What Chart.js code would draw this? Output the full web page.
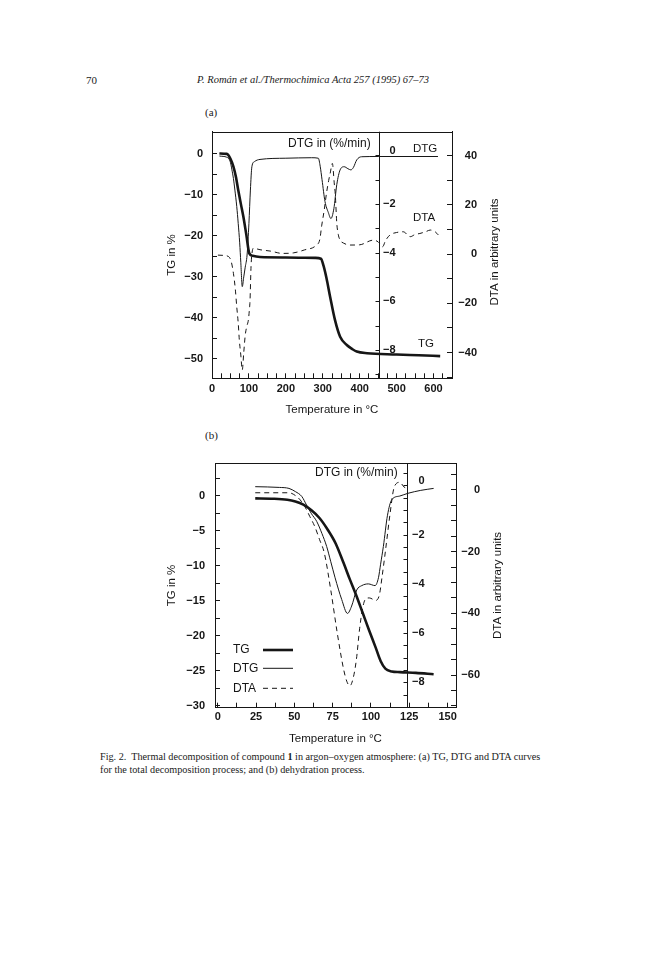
<!DOCTYPE html>
<html>
<head>
<meta charset="utf-8">
<script src="https://cdn.jsdelivr.net/npm/chart.js@4.4.1/dist/chart.umd.min.js"></script>
<style>
  body { margin: 0; background: #fff; }
  #page { position: relative; width: 672px; height: 960px; background: #fff; color: #1a1a1a; }
  .t { position: absolute; white-space: nowrap; font-family: "Liberation Serif", serif; line-height: 14px; }
  .head { font-size: 11px; }
  .it { font-style: italic; font-size: 10.5px; }
  .cap { font-size: 10.2px; }
  canvas { position: absolute; }
</style>
</head>
<body>
<div id="page">
  <div class="t head" style="left:86px;top:73px;">70</div>
  <div class="t head it" style="left:197px;top:73px;">P. Román et al./Thermochimica Acta 257 (1995) 67–73</div>
  <div class="t head" style="left:205px;top:105px;">(a)</div>
  <div class="t head" style="left:205px;top:428px;">(b)</div>
  <div class="t cap" style="left:100px;top:750px;">Fig. 2.&nbsp; Thermal decomposition of compound <b>1</b> in argon–oxygen atmosphere: (a) TG, DTG and DTA curves</div>
  <div class="t cap" style="left:100px;top:763px;">for the total decomposition process; and (b) dehydration process.</div>
  <canvas id="chartA" width="380" height="320" style="left:150px;top:107px;"></canvas>
  <canvas id="chartB" width="380" height="320" style="left:150px;top:438px;"></canvas>
</div>
<script>
// ---- (a) total decomposition, temperature in °C ----
const tgTempA = [20, 40, 50, 58, 65, 71, 78, 85, 93, 101, 110, 130, 200, 280, 295, 302, 310, 320, 333, 347, 365, 380, 392, 420, 500, 560, 618];
const tgA = [0, -0.1, -1.3, -3.2, -5.8, -8.9, -12.2, -15.4, -19.8, -24.3, -24.9, -25.2, -25.3, -25.4, -25.6, -27.3, -30.3, -34.9, -40.5, -44.6, -46.6, -47.6, -48.2, -48.6, -48.9, -49.1, -49.3];

const dtgTempA = [20, 40, 46, 50, 54, 58, 62, 67, 71, 75, 78, 82, 86, 90, 95, 100, 104, 108, 115, 130, 200, 270, 288, 293, 298, 306, 315, 322, 330, 338, 347, 358, 368, 376, 383, 392, 405, 450, 520, 612];
const dtgA = [-0.03, -0.08, -0.15, -0.3, -0.6, -0.95, -1.43, -2.1, -2.8, -3.6, -4.4, -5.4, -5.0, -4.6, -4.1, -2.8, -1.43, -0.47, -0.26, -0.17, -0.12, -0.1, -0.12, -0.45, -1.0, -1.9, -2.35, -2.6, -2.2, -1.2, -0.6, -0.47, -0.55, -0.6, -0.5, -0.19, -0.06, -0.05, -0.05, -0.05];

const dtaTempA = [16, 30, 45, 52, 58, 63, 67, 71, 74, 78, 82, 86, 90, 94, 98.5, 101, 103, 105.7, 108, 112, 130, 160, 190, 220, 250, 283, 292, 297, 304, 310, 316, 320, 326, 331, 334, 338, 342, 347, 356, 374, 400, 437, 450, 462, 470, 482, 500, 518, 537, 550, 563, 580, 591, 605, 613];
const dtaA = [-0.4, -0.5, -1, -3, -7.8, -14, -21.4, -28, -34.9, -41, -47.1, -40, -33, -29.5, -26.8, -23, -18.7, -5.1, 0, 2.4, 1.8, 1.2, 0.3, 0.5, 1.7, 3.7, 6, 11.5, 18, 24.7, 30, 32.8, 36.9, 29, 24, 12.5, 8, 5.7, 4.5, 3.7, 3.8, 5.7, 5.0, 3.0, 5.5, 7.8, 8.8, 9.1, 7.1, 8.0, 8.4, 9.2, 9.8, 9.0, 7.8];

// ---- (b) dehydration ----
const tgTempB = [24.5, 34.9, 45.4, 50.7, 55.9, 61.2, 66.4, 71.6, 76.9, 82.1, 86.3, 90.5, 94.7, 98.9, 103.1, 106.3, 109.4, 113.6, 118.8, 129.3, 140.9];
const tgB = [-0.4, -0.45, -0.6, -0.85, -1.3, -2.1, -3.2, -4.8, -6.8, -9.6, -12.0, -14.3, -16.8, -19.3, -21.7, -23.6, -24.7, -25.1, -25.2, -25.3, -25.5];

const dtgTempB = [24.5, 40.2, 46.5, 50.7, 54.9, 58.0, 61.2, 64.6, 68.0, 71.1, 73.8, 76.6, 80.9, 84.7, 87.4, 90.7, 94.0, 98.3, 102.7, 104.9, 106.3, 108.1, 110.8, 113.6, 118.8, 124.1, 132.5, 140.9];
const dtgB = [-0.05, -0.08, -0.12, -0.25, -0.45, -0.8, -1.15, -1.46, -1.95, -2.48, -3.1, -3.75, -4.63, -5.2, -4.9, -4.25, -4.07, -4.0, -4.07, -3.75, -3.2, -2.48, -1.21, -0.58, -0.43, -0.32, -0.2, -0.12];

const dtaTempB = [24.5, 34.9, 46.5, 50.7, 53.8, 57.0, 60.1, 63.3, 66.4, 69.6, 73.8, 77.9, 82.1, 84.2, 86.3, 88.4, 90.5, 92.6, 94.7, 96.3, 98.9, 103.1, 105.5, 107.3, 109.4, 112.6, 114.7, 116.8, 118.9, 121.5, 124.1];
const dtaB = [-0.9, -0.9, -0.9, -1.8, -3.2, -5.5, -8.6, -11.8, -16, -20.5, -32.5, -46, -58, -62, -63.5, -61, -55, -45, -38, -35.5, -35, -35.8, -34, -28, -20, -7.2, 0, 2.2, 2.5, 1.0, 0.5];

// ---- tick labels ----
const xLabelsA = [0, 100, 200, 300, 400, 500, 600];
const tgLabelsA = [-50, -40, -30, -20, -10, 0];
const dtgLabelsA = [-8, -6, -4, -2, 0];
const dtaLabelsA = [-40, -20, 0, 20, 40];

const xLabelsB = [0, 25, 50, 75, 100, 125, 150];
const tgLabelsB = [-30, -25, -20, -15, -10, -5, 0];
const dtgLabelsB = [-8, -6, -4, -2, 0];
const dtaLabelsB = [-60, -40, -20, 0];

const ink = '#161616';
const tickFont = { family: 'Liberation Sans', size: 11, weight: 'bold' };
const titleFont = { family: 'Liberation Sans', size: 11.5 };

function minus(v) { return String(v).replace('-', '\u2212'); }
function steps(from, to, step) {
  const out = [];
  for (let v = from; v <= to + 1e-9; v += step) out.push(Math.round(v * 100) / 100);
  return out;
}
function pts(xs, ys) { return xs.map((x, i) => ({ x: x, y: ys[i] })); }

// top border, middle DTG axis, right-hand title, notes and legend
const framePlugin = {
  id: 'frame',
  afterDraw(chart, args, o) {
    const { ctx, chartArea: a, scales } = chart;
    ctx.save();
    ctx.strokeStyle = ink;
    ctx.fillStyle = ink;
    ctx.lineWidth = 1;
    ctx.beginPath();
    ctx.moveTo(a.left, Math.round(a.top) + 0.5);
    ctx.lineTo(a.right, Math.round(a.top) + 0.5);
    const mx = Math.round(scales.x.getPixelForValue(o.midX)) + 0.5;
    ctx.moveTo(mx, a.top);
    ctx.lineTo(mx, a.bottom);
    o.dtgTicks.forEach(function (v) {
      const y = Math.round(scales.yDtg.getPixelForValue(v)) + 0.5;
      ctx.moveTo(mx - 4, y);
      ctx.lineTo(mx, y);
    });
    ctx.stroke();

    ctx.font = 'bold 11px "Liberation Sans"';
    ctx.textAlign = 'right';
    ctx.textBaseline = 'middle';
    o.dtgLabels.forEach(function (v) {
      ctx.fillText(minus(v), mx + o.dtgLabelDx, scales.yDtg.getPixelForValue(v) - (v === 0 ? 4 : 0));
    });

    ctx.save();
    ctx.translate(a.right + o.dtaTitleDx, (a.top + a.bottom) / 2 + o.dtaTitleDy);
    ctx.rotate(-Math.PI / 2);
    ctx.font = '11.5px "Liberation Sans"';
    ctx.textAlign = 'center';
    ctx.fillText('DTA in arbitrary units', 0, 0);
    ctx.restore();

    ctx.textAlign = 'left';
    o.notes.forEach(function (n) {
      ctx.font = n.size + 'px "Liberation Sans"';
      ctx.fillText(n.text, a.left + n.dx, a.top + n.dy);
    });

    if (o.legend) {
      const L = o.legend;
      chart.data.datasets.forEach(function (ds, i) {
        const y = a.top + L.dy[i];
        ctx.font = '12px "Liberation Sans"';
        ctx.fillText(ds.label, a.left + L.textDx, y);
        ctx.beginPath();
        ctx.lineWidth = ds.borderWidth;
        ctx.setLineDash(ds.borderDash || []);
        ctx.moveTo(a.left + L.lineFrom, y);
        ctx.lineTo(a.left + L.lineTo, y);
        ctx.stroke();
      });
      ctx.setLineDash([]);
    }
    ctx.restore();
  }
};

function yAxis(p, side) {
  return {
    position: side,
    min: p.min, max: p.max,
    afterFit: function (s) { s.width = p.width; },
    afterBuildTicks: function (s) { s.ticks = p.ticks.map(function (v) { return { value: v }; }); },
    ticks: {
      font: tickFont, color: ink, padding: p.pad, autoSkip: false, crossAlign: side === 'right' ? 'far' : 'near',
      callback: function (v) { return p.labels.includes(v) ? minus(v) : ''; }
    },
    grid: { drawOnChartArea: false, tickLength: -5, color: ink },
    border: { color: ink, width: 1 },
    title: p.title ? { display: true, text: p.title, font: titleFont, color: ink, padding: { top: 15, bottom: 0 } } : { display: false }
  };
}

function buildPanel(id, p) {
  return new Chart(document.getElementById(id), {
    type: 'line',
    data: {
      datasets: [
        { label: 'TG', data: pts(p.tgX, p.tg), yAxisID: 'y', borderColor: ink, borderWidth: 2.6 },
        { label: 'DTG', data: pts(p.dtgX, p.dtg), yAxisID: 'yDtg', borderColor: ink, borderWidth: 1 },
        { label: 'DTA', data: pts(p.dtaX, p.dta), yAxisID: 'yDta', borderColor: ink, borderWidth: 1, borderDash: [5, 4] }
      ]
    },
    options: {
      responsive: false,
      animation: false,
      layout: { padding: { top: p.padTop, left: 0, right: p.padRight, bottom: 0 } },
      elements: { point: { radius: 0 }, line: { cubicInterpolationMode: 'monotone', fill: false } },
      plugins: { legend: { display: false }, tooltip: { enabled: false }, frame: p.frame },
      scales: {
        x: {
          type: 'linear', min: p.x.min, max: p.x.max,
          afterFit: function (s) { s.height = p.x.height; },
          afterBuildTicks: function (s) { s.ticks = p.x.ticks.map(function (v) { return { value: v }; }); },
          ticks: {
            font: tickFont, color: ink, padding: p.x.pad, maxRotation: 0, autoSkip: false,
            callback: function (v) { return p.x.labels.includes(v) ? minus(v) : ''; }
          },
          grid: { drawOnChartArea: false, tickLength: -5, color: ink },
          border: { color: ink, width: 1 },
          title: { display: true, text: 'Temperature in °C', font: titleFont, color: ink, padding: { top: 0, bottom: p.x.titlePad } }
        },
        y: yAxis(p.tgAxis, 'left'),
        yDta: yAxis(p.dtaAxis, 'right'),
        yDtg: { display: false, min: p.dtgAxis.min, max: p.dtgAxis.max }
      }
    },
    plugins: [framePlugin]
  });
}

buildPanel('chartA', {
  tgX: tgTempA, tg: tgA, dtgX: dtgTempA, dtg: dtgA, dtaX: dtaTempA, dta: dtaA,
  padTop: 24.7, padRight: 53,
  x: { min: 0, max: 650, height: 48.7, pad: 9, titlePad: 10, ticks: steps(0, 625, 25), labels: xLabelsA },
  tgAxis: { min: -54.7, max: 5.3, width: 62, pad: 14, ticks: steps(-50, 5, 5), labels: tgLabelsA, title: 'TG in %' },
  dtaAxis: { min: -50.5, max: 49.8, width: 25, pad: 10, ticks: steps(-50, 40, 10), labels: dtaLabelsA },
  dtgAxis: { min: -9.17, max: 0.97 },
  frame: {
    midX: 452, dtgTicks: steps(-9, 0, 1), dtgLabels: dtgLabelsA, dtgLabelDx: 16,
    dtaTitleDx: 43, dtaTitleDy: -3,
    notes: [
      { text: 'DTG in (%/min)', size: 12, dx: 76, dy: 11.6 },
      { text: 'DTG', size: 11.5, dx: 201, dy: 17.3 },
      { text: 'DTA', size: 11.5, dx: 201, dy: 86.3 },
      { text: 'TG', size: 11.5, dx: 206, dy: 212.3 }
    ]
  }
});

buildPanel('chartB', {
  tgX: tgTempB, tg: tgB, dtgX: dtgTempB, dtg: dtgB, dtaX: dtaTempB, dta: dtaB,
  padTop: 25.3, padRight: 50,
  x: { min: -1.76, max: 155.5, height: 50.3, pad: 8, titlePad: 12, ticks: steps(0, 150, 12.5), labels: xLabelsB },
  tgAxis: { min: -30.27, max: 4.6, width: 65, pad: 15, ticks: steps(-30, 2.5, 2.5), labels: tgLabelsB, title: 'TG in %' },
  dtaAxis: { min: -70.6, max: 8.65, width: 24, pad: 9, ticks: steps(-70, 5, 5), labels: dtaLabelsB },
  dtgAxis: { min: -9.03, max: 0.9 },
  frame: {
    midX: 123.8, dtgTicks: steps(-9, 0.5, 0.5), dtgLabels: dtgLabelsB, dtgLabelDx: 17,
    dtaTitleDx: 42, dtaTitleDy: 0,
    notes: [
      { text: 'DTG in (%/min)', size: 12, dx: 100, dy: 9.7 }
    ],
    legend: { textDx: 18, lineFrom: 48, lineTo: 78, dy: [186.7, 205, 225] }
  }
});
</script>
</body>
</html>
